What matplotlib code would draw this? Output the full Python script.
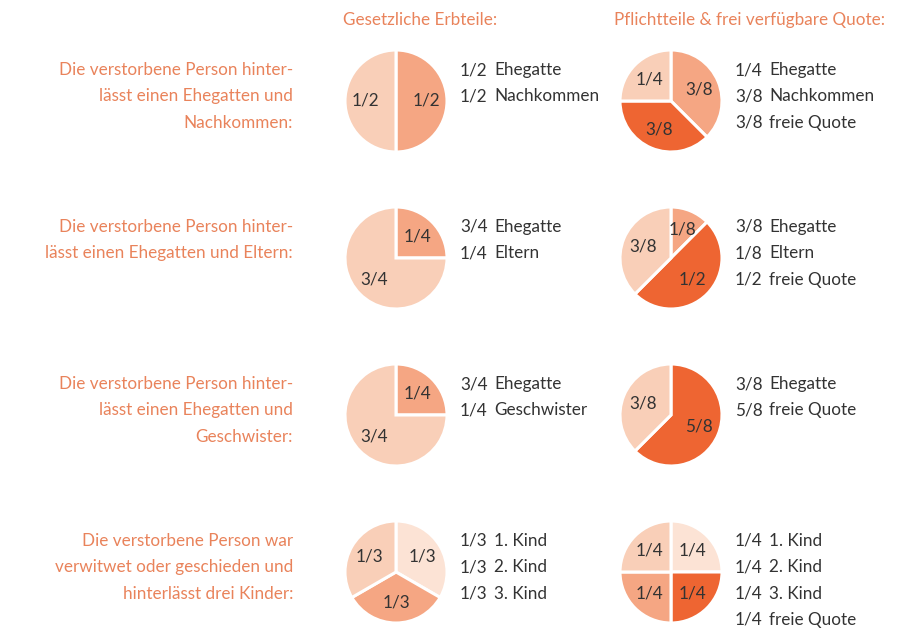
import matplotlib.pyplot as plt

# Colours (lightest -> darkest)
LIGHTEST = '#FCE3D5'
LIGHT = '#F9CFB8'
MEDIUM = '#F5A683'
DARK = '#EE6532'
ORANGE_TXT = '#E9835B'
DARK_TXT = '#333333'

FONT = ['Lato', 'DejaVu Sans']
FS = 12.3

headers = ['Gesetzliche Erbteile:', 'Pflichtteile & frei verfügbare Quote:']

descriptions = [
    ['Die verstorbene Person hinter-', 'lässt einen Ehegatten und', 'Nachkommen:'],
    ['Die verstorbene Person hinter-', 'lässt einen Ehegatten und Eltern:'],
    ['Die verstorbene Person hinter-', 'lässt einen Ehegatten und', 'Geschwister:'],
    ['Die verstorbene Person war', 'verwitwet oder geschieden und', 'hinterlässt drei Kinder:'],
]

# wedge labels, clockwise from 12 o'clock
left_wedges = [['1/2', '1/2'], ['1/4', '3/4'], ['1/4', '3/4'], ['1/3', '1/3', '1/3']]
left_colors = [[MEDIUM, LIGHT], [MEDIUM, LIGHT], [MEDIUM, LIGHT], [LIGHTEST, MEDIUM, LIGHT]]
right_wedges = [['3/8', '3/8', '1/4'], ['1/8', '1/2', '3/8'], ['5/8', '3/8'],
                ['1/4', '1/4', '1/4', '1/4']]
right_colors = [[MEDIUM, DARK, LIGHT], [MEDIUM, DARK, LIGHT], [DARK, LIGHT],
                [LIGHTEST, DARK, MEDIUM, LIGHT]]

# legend text next to each pie
left_legend = [
    [('1/2', 'Ehegatte'), ('1/2', 'Nachkommen')],
    [('3/4', 'Ehegatte'), ('1/4', 'Eltern')],
    [('3/4', 'Ehegatte'), ('1/4', 'Geschwister')],
    [('1/3', '1. Kind'), ('1/3', '2. Kind'), ('1/3', '3. Kind')],
]
right_legend = [
    [('1/4', 'Ehegatte'), ('3/8', 'Nachkommen'), ('3/8', 'freie Quote')],
    [('3/8', 'Ehegatte'), ('1/8', 'Eltern'), ('1/2', 'freie Quote')],
    [('3/8', 'Ehegatte'), ('5/8', 'freie Quote')],
    [('1/4', '1. Kind'), ('1/4', '2. Kind'), ('1/4', '3. Kind'), ('1/4', 'freie Quote')],
]


def frac(s):
    a, b = s.split('/')
    return int(a) / int(b)


W, H = 900, 639
fig = plt.figure(figsize=(9, 6.39), dpi=100)
ax = fig.add_axes([0, 0, 1, 1])
ax.set_xlim(0, W)
ax.set_ylim(0, H)
ax.set_aspect('equal')
ax.axis('off')

row_y = [101, 258, 415, 572]   # pixel rows, from top
pie_x = [396, 671]
R = 51
LINE = 26.3

txt = dict(fontsize=FS, family=FONT, weight='normal', va='center')

ax.text(343, H - 20, headers[0], color=ORANGE_TXT, **txt)
ax.text(614, H - 20, headers[1], color=ORANGE_TXT, **txt)

for i, yc in enumerate(row_y):
    y = H - yc
    # description on the left, right aligned
    for j, line in enumerate(descriptions[i]):
        ax.text(293, y + 31 - j * LINE, line, color=ORANGE_TXT, ha='right', **txt)

    for k, (wedges, colors, legend) in enumerate([
            (left_wedges[i], left_colors[i], left_legend[i]),
            (right_wedges[i], right_colors[i], right_legend[i])]):
        cx = pie_x[k]
        ax.pie([frac(w) for w in wedges], colors=colors, labels=wedges,
               labeldistance=0.6, startangle=90, counterclock=False,
               center=(cx, y), radius=R,
               wedgeprops=dict(edgecolor='white', linewidth=2.2),
               textprops=dict(color=DARK_TXT, fontsize=FS, family=FONT,
                              weight='normal', ha='center', va='center'))
        tx = cx + 64
        for j, (f, name) in enumerate(legend):
            ax.text(tx, y + 31 - j * LINE, f, color=DARK_TXT, **txt)
            ax.text(tx + 34, y + 31 - j * LINE, name, color=DARK_TXT, **txt)

ax.set_xlim(0, W)
ax.set_ylim(0, H)

fig.savefig('out.png', dpi=100, facecolor='white')
